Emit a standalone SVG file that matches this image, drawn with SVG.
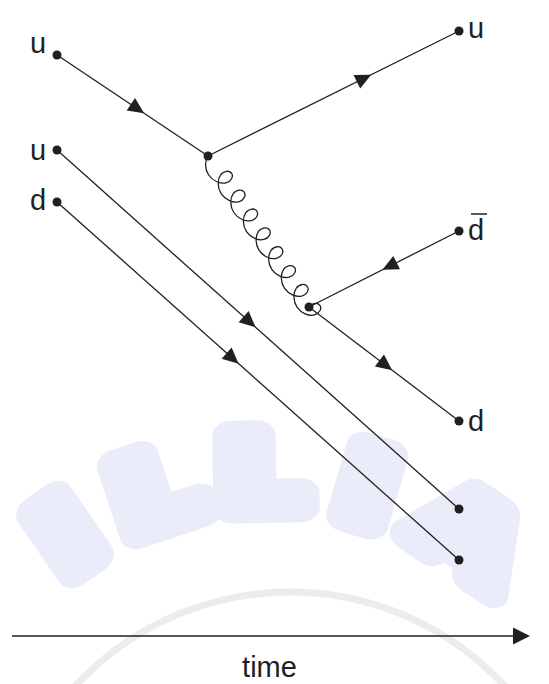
<svg xmlns="http://www.w3.org/2000/svg" width="549" height="684" viewBox="0 0 549 684">
  <style>
    .ln { stroke: #231f20; stroke-width: 1.3; fill: none; }
    .gl { stroke: #231f20; stroke-width: 1.3; fill: none; }
    .dot { fill: #231f20; }
    .lbl { font-family: "Liberation Sans", Arial, sans-serif; font-size: 29px; fill: #231f20; }
    .wm { font-family: "DejaVu Sans", sans-serif; font-weight: bold; font-size: 100px; fill: #eaecf9; stroke: #eaecf9; stroke-width: 30; stroke-linejoin: round; text-anchor: middle; }
  </style>
  <defs>
    <path id="arr" d="M8,0 L-8,-7.5 L-8,7.5 Z" fill="#231f20"/>
  </defs>
  <rect width="549" height="684" fill="#ffffff"/>
  <g id="watermark">
    <circle cx="290" cy="884" r="292" fill="none" stroke="#ececec" stroke-width="7"/>
    <text class="wm" transform="rotate(-34.5 268 830) translate(268 508) scale(1.3 1)">I</text>
    <text class="wm" transform="rotate(-18.3 268 830) translate(268 508) scale(1.3 1)">L</text>
    <text class="wm" transform="rotate(-1 268 830) translate(268 508) scale(1.3 1)">L</text>
    <text class="wm" transform="rotate(16.1 268 830) translate(268 508) scale(1.3 1)">I</text>
    <text class="wm" transform="rotate(34.2 268 830) translate(268 508) scale(1.3 1)">A</text>
  </g>
  <g id="connectors">
    <line class="ln" x1="57" y1="55" x2="208" y2="156"/>
    <line class="ln" x1="208" y1="156" x2="459" y2="31"/>
    <line class="ln" x1="459" y1="231" x2="309" y2="307"/>
    <line class="ln" x1="309" y1="307" x2="459" y2="421"/>
    <line class="ln" x1="57" y1="150" x2="459" y2="509"/>
    <line class="ln" x1="57" y1="202" x2="459" y2="560"/>
    <path class="gl" transform="translate(208,156) rotate(56.22)" d="M0,0 c1.892,5.236 8.785,10 16.175,10
      c7.390,0 14.283,-4.764 16.175,-10 c1.892,-5.236 -1.219,-10 -4.825,-10 c-3.606,0 -6.717,4.764 -4.825,10 c1.892,5.236 8.785,10 16.175,10
      c7.390,0 14.283,-4.764 16.175,-10 c1.892,-5.236 -1.219,-10 -4.825,-10 c-3.606,0 -6.717,4.764 -4.825,10 c1.892,5.236 8.785,10 16.175,10
      c7.390,0 14.283,-4.764 16.175,-10 c1.892,-5.236 -1.219,-10 -4.825,-10 c-3.606,0 -6.717,4.764 -4.825,10 c1.892,5.236 8.785,10 16.175,10
      c7.390,0 14.283,-4.764 16.175,-10 c1.892,-5.236 -1.219,-10 -4.825,-10 c-3.606,0 -6.717,4.764 -4.825,10 c1.892,5.236 8.785,10 16.175,10
      c7.390,0 14.283,-4.764 16.175,-10 c1.892,-5.236 -1.219,-10 -4.825,-10 c-3.606,0 -6.717,4.764 -4.825,10 c1.892,5.236 8.785,10 16.175,10
      c7.390,0 14.283,-4.764 16.175,-10 c1.892,-5.236 -1.219,-10 -4.825,-10 c-3.606,0 -6.717,4.764 -4.825,10 c1.892,5.236 8.785,10 16.175,10
      c7.390,0 14.283,-4.764 16.175,-10 c1.892,-5.236 -1.219,-10 -4.825,-10 c-3.606,0 -6.717,4.764 -4.825,10 c1.892,5.236 8.785,10 16.175,10
      c7.390,0 14.283,-4.764 16.175,-10 c1.892,-5.236 -1.219,-10 -4.825,-10 c-3.606,0 -6.717,4.764 -4.825,10"/>
    <use href="#arr" transform="translate(137.5,108.8) rotate(33.8)"/>
    <use href="#arr" transform="translate(364,78.2) rotate(-26.5)"/>
    <use href="#arr" transform="translate(389.5,266.2) rotate(153.1)"/>
    <use href="#arr" transform="translate(385.8,365.4) rotate(37.2)"/>
    <use href="#arr" transform="translate(249.6,322) rotate(41.8)"/>
    <use href="#arr" transform="translate(232.6,358.4) rotate(41.7)"/>
  </g>
  <g id="u-in-1"><circle class="dot" cx="57" cy="55" r="4.5"/><text class="lbl" x="30" y="53">u</text></g>
  <g id="u-in-2"><circle class="dot" cx="57" cy="150" r="4.5"/><text class="lbl" x="30" y="160">u</text></g>
  <g id="d-in"><circle class="dot" cx="57" cy="202" r="4.5"/><text class="lbl" x="30" y="210">d</text></g>
  <g id="vertex-1"><circle class="dot" cx="208" cy="156" r="4.5"/></g>
  <g id="vertex-2"><circle class="dot" cx="309" cy="307" r="4.5"/></g>
  <g id="u-out"><circle class="dot" cx="459" cy="31" r="4.5"/><text class="lbl" x="468" y="38">u</text></g>
  <g id="dbar-out"><circle class="dot" cx="459" cy="231" r="4.5"/><text class="lbl" x="468" y="240">d</text><line x1="471" y1="214" x2="487" y2="214" stroke="#231f20" stroke-width="1.5"/></g>
  <g id="d-out"><circle class="dot" cx="459" cy="421" r="4.5"/><text class="lbl" x="468" y="431">d</text></g>
  <g id="u-spec-out"><circle class="dot" cx="459" cy="509" r="4.5"/></g>
  <g id="d-spec-out"><circle class="dot" cx="459" cy="560" r="4.5"/></g>
  <g id="time-axis">
    <line x1="12" y1="636" x2="515" y2="636" stroke="#231f20" stroke-width="1.5"/>
    <polygon points="530,636 513,627.5 513,644.5" fill="#231f20"/>
    <text class="lbl" x="269.5" y="677" text-anchor="middle" font-size="28">time</text>
  </g>
</svg>
